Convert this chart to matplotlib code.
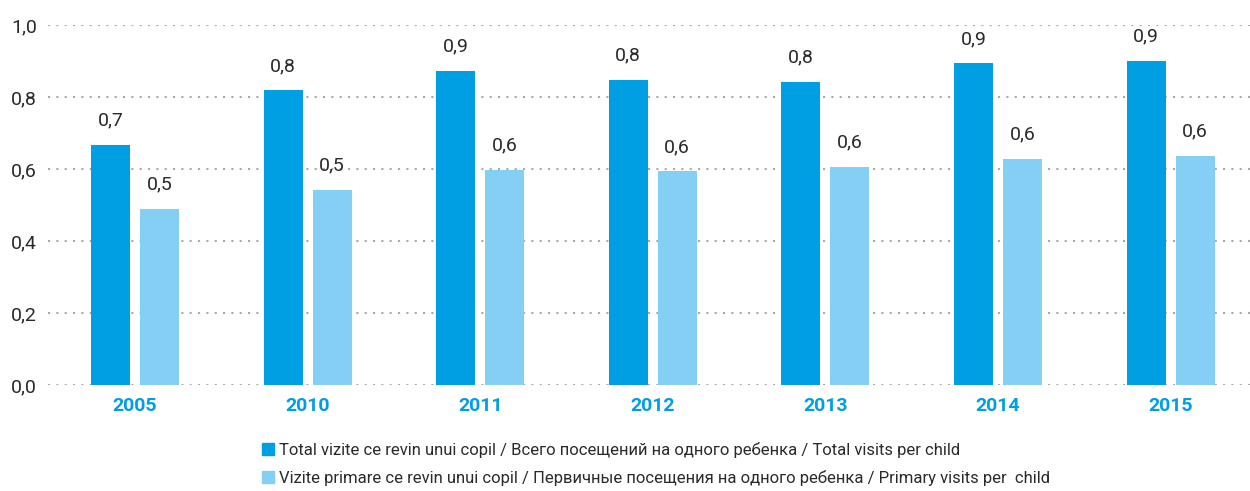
import numpy as np
import matplotlib.pyplot as plt
from matplotlib.patches import Patch

# data
years = ['2005', '2010', '2011', '2012', '2013', '2014', '2015']
total_visits = [0.667, 0.819, 0.872, 0.847, 0.842, 0.894, 0.900]
primary_visits = [0.489, 0.542, 0.597, 0.594, 0.606, 0.628, 0.636]
labels = ['Total vizite ce revin unui copil / Всего посещений на одного ребенка / Total visits per child',
          'Vizite primare ce revin unui copil / Первичные посещения на одного ребенка / Primary visits per  child']

dark = '#009FE3'
light = '#84D0F5'
txt = '#2a2a2a'
plt.rcParams['font.family'] = ['Roboto', 'DejaVu Sans']

fig = plt.figure(figsize=(12.5, 4.91), dpi=100)
ax = fig.add_axes([0.0384, 0.2159, 0.9616, 0.7332])

x = np.arange(len(years))
bar_width = 0.226
off = 0.142
bars1 = ax.bar(x - off, total_visits, bar_width, color=dark, zorder=3)
bars2 = ax.bar(x + off, primary_visits, bar_width, color=light, zorder=3)

ax.set_xlim(-0.504, 6.46)
ax.set_ylim(0, 1.0)
ax.set_yticks(np.arange(0, 1.01, 0.2))
ax.set_yticklabels([f'{v:.1f}'.replace('.', ',') for v in np.arange(0, 1.01, 0.2)],
                   fontsize=14, color=txt)
ax.set_xticks(x)
ax.set_xticklabels(years, fontsize=14, fontweight='bold', color=dark)
ax.tick_params(axis='both', length=0)
ax.tick_params(axis='y', pad=8)
ax.tick_params(axis='x', pad=9)
ax.yaxis.grid(True, linestyle=(0, (1, 3)), color='#aaaaaa', linewidth=1.5, zorder=0)
ax.set_axisbelow(True)
for s in ax.spines.values():
    s.set_visible(False)


def autolabel(bars):
    for bar in bars:
        h = bar.get_height()
        ax.annotate(f'{h:.1f}'.replace('.', ','),
                    xy=(bar.get_x() + bar.get_width() / 2, h),
                    xytext=(0, 11), textcoords='offset points',
                    ha='center', va='bottom', fontsize=14, color=txt)


autolabel(bars1)
autolabel(bars2)

handles = [Patch(color=dark), Patch(color=light)]
leg = fig.legend(handles, labels, loc='upper left', bbox_to_anchor=(0.204, 0.114),
                 frameon=False, handlelength=0.75, handleheight=0.75,
                 handletextpad=0.3, labelspacing=0.75, borderaxespad=0,
                 prop={'size': 12})
for t in leg.get_texts():
    t.set_color(txt)

fig.savefig('out.png', dpi=100)
